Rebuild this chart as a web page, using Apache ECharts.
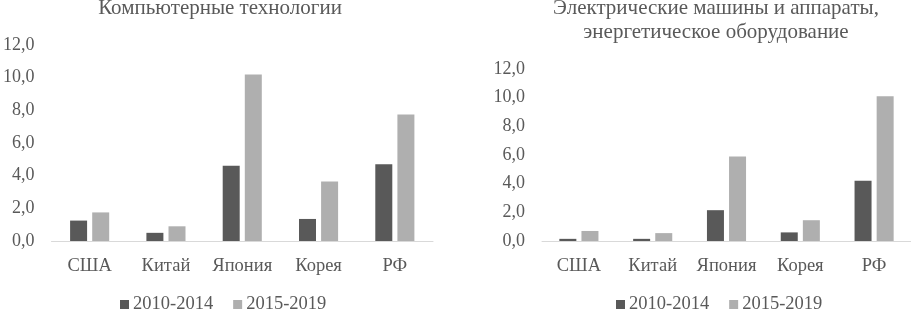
<!DOCTYPE html>
<html>
<head>
<meta charset="utf-8">
<script src="https://cdn.jsdelivr.net/npm/echarts@6/dist/echarts.min.js"></script>
<style>
  html, body { margin: 0; padding: 0; background: #fff; }
  #main { width: 911px; height: 311px; }
</style>
</head>
<body>
<div id="main"></div>
<script>
// values
var categories = ['США', 'Китай', 'Япония', 'Корея', 'РФ'];
var seriesNames = ['2010-2014', '2015-2019'];
var comp2010 = [1.25, 0.5, 4.6, 1.35, 4.7];
var comp2015 = [1.75, 0.9, 10.2, 3.65, 7.75];
var elec2010 = [0.15, 0.15, 2.15, 0.6, 4.2];
var elec2015 = [0.7, 0.55, 5.9, 1.45, 10.1];
var titleLeft = 'Компьютерные технологии';
var titleRight = 'Электрические машины и аппараты,\nэнергетическое оборудование';

var font = 'Liberation Serif';
var textColor = '#595959';
var darkColor = '#595959';
var lightColor = '#afafaf';

var myChart = echarts.init(document.getElementById('main'));

function xAxisFor(idx) {
    return {
        type: 'category',
        gridIndex: idx,
        data: categories,
        axisLine: { lineStyle: { color: '#d9d9d9', width: 1 } },
        axisTick: { show: false },
        axisLabel: { interval: 0, color: textColor, fontFamily: font, fontSize: 18.5, margin: 16 }
    };
}
function yAxisFor(idx) {
    return {
        type: 'value',
        gridIndex: idx,
        min: 0,
        max: 12,
        interval: 2,
        axisLine: { show: false },
        axisTick: { show: false },
        splitLine: { show: false },
        axisLabel: {
            color: textColor, fontFamily: font, fontSize: 18, margin: 17,
            formatter: function (v) { return v.toFixed(1).replace('.', ','); }
        }
    };
}
function barSeries(name, idx, data, color) {
    return {
        name: name,
        type: 'bar',
        xAxisIndex: idx,
        yAxisIndex: idx,
        data: data,
        barWidth: 17,
        barGap: '30%',
        itemStyle: { color: color }
    };
}
function legendAt(x) {
    return {
        left: x,
        top: 295,
        padding: 0,
        itemWidth: 9,
        itemHeight: 9,
        itemGap: 20,
        icon: 'rect',
        data: seriesNames,
        textStyle: { color: textColor, fontFamily: font, fontSize: 18.5, padding: [0, 0, 0, -1] }
    };
}

var option = {
    animation: false,
    backgroundColor: '#fff',
    graphic: [
        { type: 'text', x: 220, y: 8, style: { text: titleLeft, font: '21px "Liberation Serif"', fill: textColor, align: 'center', verticalAlign: 'middle' } },
        { type: 'text', x: 716, y: 20, style: { text: titleRight, font: '21px "Liberation Serif"', fill: textColor, align: 'center', verticalAlign: 'middle', lineHeight: 24 } }
    ],
    legend: [legendAt(120), legendAt(616)],
    grid: [
        { left: 47, top: 45, width: 386, bottom: 70 },
        { left: 542, top: 69, width: 386, bottom: 70 }
    ],
    xAxis: [xAxisFor(0), xAxisFor(1)],
    yAxis: [yAxisFor(0), yAxisFor(1)],
    series: [
        barSeries(seriesNames[0], 0, comp2010, darkColor),
        barSeries(seriesNames[1], 0, comp2015, lightColor),
        barSeries(seriesNames[0], 1, elec2010, darkColor),
        barSeries(seriesNames[1], 1, elec2015, lightColor)
    ]
};

myChart.setOption(option);
</script>
</body>
</html>
